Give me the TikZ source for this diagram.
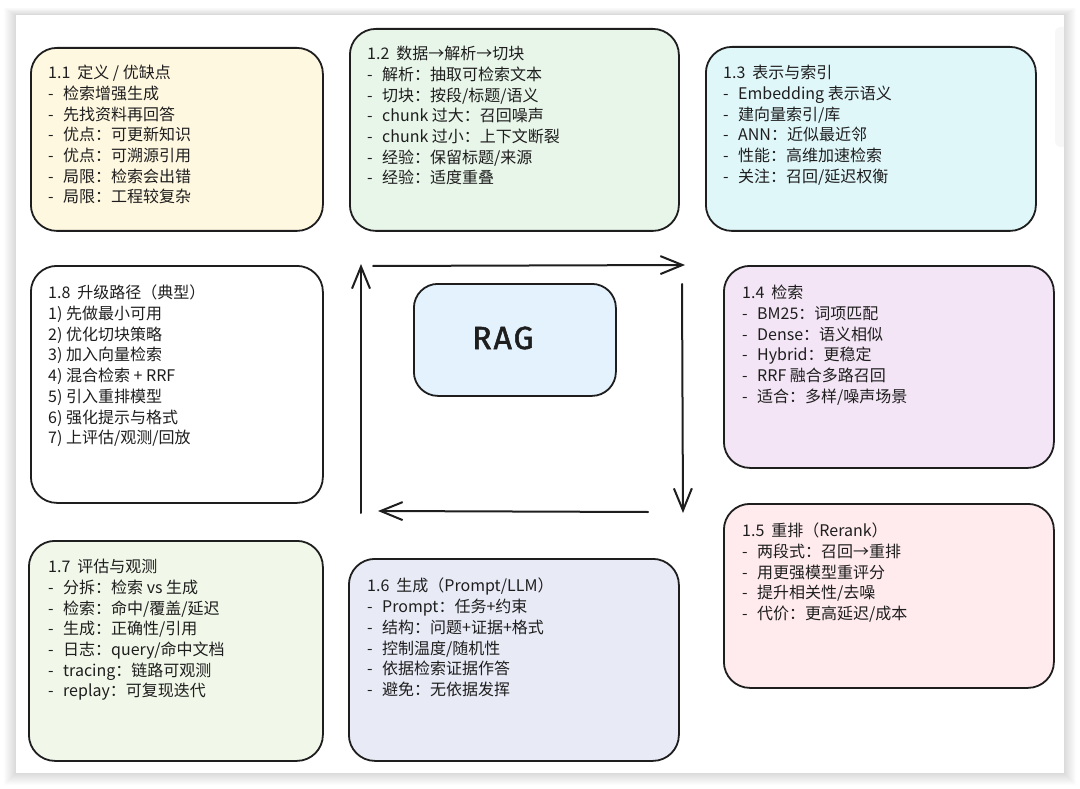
\documentclass[tikz,border=0pt]{standalone}
\usepackage{fontspec}
\setmainfont{Noto Sans CJK SC}
\newfontfamily\ragfont[LetterSpace=6,FakeBold=1.6]{Fira Sans}
\usetikzlibrary{arrows.meta}
\definecolor{ink}{HTML}{1E1E1E}
\definecolor{c11}{HTML}{FFF8E1}
\definecolor{c12}{HTML}{E8F5E9}
\definecolor{c13}{HTML}{E0F7FA}
\definecolor{c14}{HTML}{F3E5F5}
\definecolor{c15}{HTML}{FFEBEE}
\definecolor{c16}{HTML}{E8EAF6}
\definecolor{c17}{HTML}{F1F8E9}
\definecolor{crag}{HTML}{E3F2FD}
\newcommand\mydash{\makebox[15pt][l]{-}}
\newcommand\ttlgap{\hspace{7pt}}
\tikzset{
  card/.style={draw=ink, line width=1.8pt, rounded corners=26pt, anchor=north west, inner sep=0pt},
  txt/.style={anchor=north west, inner sep=0pt, align=left, text=ink,
    font=\fontsize{16}{20.7}\selectfont},
  flow/.style={draw=ink, line width=2pt, line cap=round,
    -{Straight Barb[length=22pt,width=18pt,line width=2pt]}}
}
\begin{document}
\begin{tikzpicture}[x=1pt,y=-1pt]
\useasboundingbox (0,0) rectangle (1080,789);
\fill[white] (0,0) rectangle (1080,789);
\foreach \i in {1,...,12}{
  \fill[black,opacity=0.012] (16-\i,15-\i*0.6) rectangle (1064+\i,773+\i);
}
\fill[white] (16,15) rectangle (1064,773);
\fill[black!3, rounded corners=6pt] (1055,27) rectangle (1072,147);
\fill[white] (1064,15) rectangle (1080,789);
\foreach \i in {1,...,12}{
  \fill[black,opacity=0.012] (1064,15) rectangle (1064+\i,773+\i);
}

% cards
\node[card, fill=c11, minimum width=292pt, minimum height=183pt] (b11) at (30,47) {};
\node[card, fill=c12, minimum width=329pt, minimum height=202pt] (b12) at (349,28) {};
\node[card, fill=c13, minimum width=330pt, minimum height=184pt] (b13) at (705,46) {};
\node[card, fill=white, minimum width=292pt, minimum height=237pt] (b18) at (30,265) {};
\node[card, fill=crag, rounded corners=24pt, minimum width=202pt, minimum height=112pt] (rag) at (413,283) {};
\node[card, fill=c14, minimum width=330pt, minimum height=202pt] (b14) at (723,265) {};
\node[card, fill=c15, minimum width=330pt, minimum height=184pt] (b15) at (723,503) {};
\node[card, fill=c16, minimum width=330pt, minimum height=202pt] (b16) at (348,558) {};
\node[card, fill=c17, minimum width=294pt, minimum height=220pt] (b17) at (28,540) {};

% texts
\node[txt] (t11) at (48,65) {1.1\ttlgap 定义 / 优缺点\\
\mydash 检索增强生成\\
\mydash 先找资料再回答\\
\mydash 优点：可更新知识\\
\mydash 优点：可溯源引用\\
\mydash 局限：检索会出错\\
\mydash 局限：工程较复杂};

\node[txt] (t12) at (367,46) {1.2\ttlgap 数据→解析→切块\\
\mydash 解析：抽取可检索文本\\
\mydash 切块：按段/标题/语义\\
\mydash chunk 过大：召回噪声\\
\mydash chunk 过小：上下文断裂\\
\mydash 经验：保留标题/来源\\
\mydash 经验：适度重叠};

\node[txt] (t13) at (723,65) {1.3\ttlgap 表示与索引\\
\mydash Embedding 表示语义\\
\mydash 建向量索引/库\\
\mydash ANN：近似最近邻\\
\mydash 性能：高维加速检索\\
\mydash 关注：召回/延迟权衡};

\node[txt] (t18) at (48,285) {1.8\ttlgap 升级路径（典型）\\
1) 先做最小可用\\
2) 优化切块策略\\
3) 加入向量检索\\
4) 混合检索 + RRF\\
5) 引入重排模型\\
6) 强化提示与格式\\
7) 上评估/观测/回放};

\node[txt] (t14) at (742,285) {1.4\ttlgap 检索\\
\mydash BM25：词项匹配\\
\mydash Dense：语义相似\\
\mydash Hybrid：更稳定\\
\mydash RRF 融合多路召回\\
\mydash 适合：多样/噪声场景};

\node[txt] (t15) at (742,523) {1.5\ttlgap 重排（Rerank）\\
\mydash 两段式：召回→重排\\
\mydash 用更强模型重评分\\
\mydash 提升相关性/去噪\\
\mydash 代价：更高延迟/成本};

\node[txt] (t16) at (367,578) {1.6\ttlgap 生成（Prompt/LLM）\\
\mydash Prompt：任务+约束\\
\mydash 结构：问题+证据+格式\\
\mydash 控制温度/随机性\\
\mydash 依据检索证据作答\\
\mydash 避免：无依据发挥};

\node[txt] (t17) at (48,559) {1.7\ttlgap 评估与观测\\
\mydash 分拆：检索 vs 生成\\
\mydash 检索：命中/覆盖/延迟\\
\mydash 生成：正确性/引用\\
\mydash 日志：query/命中文档\\
\mydash tracing：链路可观测\\
\mydash replay：可复现迭代};

\node[text=ink, font=\ragfont\fontsize{32}{32}\selectfont] (ragt) at (503,338) {RAG};

% cycle arrows
\coordinate (a1) at (373,266);
\coordinate (a2) at (685,265);
\coordinate (a3) at (682,284);
\coordinate (a4) at (683,513);
\coordinate (a5) at (648,512);
\coordinate (a6) at (378,511);
\coordinate (a7) at (361,513);
\coordinate (a8) at (361,264);
\draw[flow] (a1) -- (a2);
\draw[flow] (a3) -- (a4);
\draw[flow] (a5) -- (a6);
\draw[flow] (a7) -- (a8);
\end{tikzpicture}
\end{document}
